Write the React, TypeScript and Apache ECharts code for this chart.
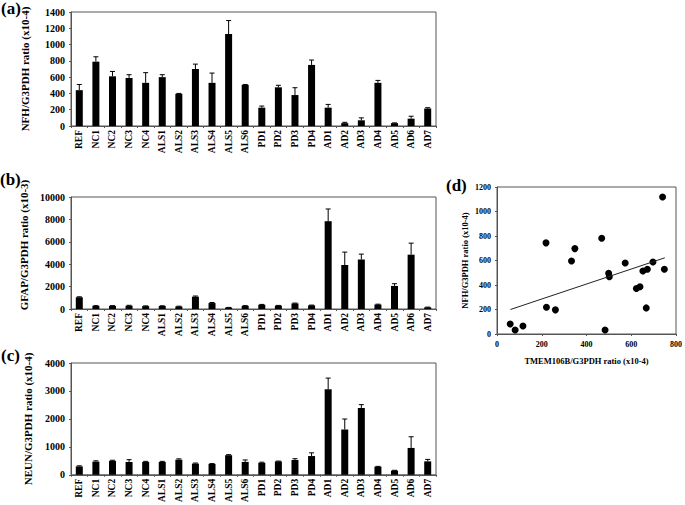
import React, { useEffect, useRef } from "react";
import * as echarts from "echarts";

const categories = ["REF","NC1","NC2","NC3","NC4","ALS1","ALS2","ALS3","ALS4","ALS5","ALS6","PD1","PD2","PD3","PD4","AD1","AD2","AD3","AD4","AD5","AD6","AD7"];

const nfhMean = [440,790,610,590,530,600,395,700,530,1130,505,225,475,380,750,225,35,70,530,35,90,215];
const nfhErr  = [70,60,60,40,125,30,5,60,120,165,5,20,25,90,60,40,10,30,30,3,30,10];

const gfapMean = [1050,280,280,300,260,270,230,1100,530,130,280,380,300,500,330,7840,3930,4420,400,2060,4850,150];
const gfapErr  = [40,20,20,30,20,20,20,60,50,10,20,30,20,30,20,1090,1150,480,30,200,1030,20];

const neunMean = [300,470,500,460,460,460,540,400,390,700,460,430,480,530,670,3060,1620,2390,290,150,960,480];
const neunErr  = [20,30,20,80,20,20,30,20,10,20,70,20,10,45,115,400,375,120,10,10,400,70];

const tmemX = [59,81,116,219,221,261,333,348,468,483,499,502,573,623,639,652,667,672,697,740,748];
const nfhY  = [82,33,66,744,219,197,596,697,782,33,495,467,580,372,385,514,213,528,588,1118,528];
const trendLine = [[60,200],[750,622]];

const FONT = "'Liberation Serif', 'Times New Roman', serif";
const AXIS_COLOR = "#555";
const plain = (v: number) => String(v);

export default function App() {
  const ref = useRef<HTMLDivElement>(null);
  useEffect(() => {
    const chart = echarts.init(ref.current!, null, { renderer: "svg" });

    const barGrids = [
      { top: 12, height: 114 },
      { top: 197, height: 112 },
      { top: 363, height: 114 },
    ];
    const panels = [
      { mean: nfhMean, err: nfhErr, max: 1400, interval: 200, name: "NFH/G3PDH ratio (x10-4)", gap: 41, shift: 0 },
      { mean: gfapMean, err: gfapErr, max: 10000, interval: 2000, name: "GFAP/G3PDH ratio (x10-3)", gap: 38, shift: 16 },
      { mean: neunMean, err: neunErr, max: 4000, interval: 1000, name: "NEUN/G3PDH ratio (x10-4)", gap: 38, shift: 0 },
    ];

    const grid: any[] = barGrids.map((g) => ({
      left: 71, width: 365, top: g.top, height: g.height,
      show: true, borderColor: AXIS_COLOR, borderWidth: 1, backgroundColor: "transparent",
    }));
    grid.push({ left: 497, width: 181, top: 187, height: 147, show: true, borderColor: AXIS_COLOR, borderWidth: 1, backgroundColor: "transparent" });

    const xAxis: any[] = panels.map((_, i) => ({
      type: "category", gridIndex: i, data: categories,
      axisLine: { lineStyle: { color: AXIS_COLOR, width: 1 } },
      axisTick: { show: true, length: 2, lineStyle: { color: AXIS_COLOR } },
      axisLabel: { rotate: 90, interval: 0, margin: 4, color: "#000000", fontFamily: FONT, fontWeight: "bold", fontSize: 9.5 },
    }));
    xAxis.push({
      type: "value", gridIndex: 3, min: 0, max: 800, interval: 200,
      axisLine: { onZero: false, lineStyle: { color: AXIS_COLOR } },
      axisTick: { show: true, length: 2, lineStyle: { color: AXIS_COLOR } },
      splitLine: { show: false },
      axisLabel: { margin: 6, color: "#000000", fontFamily: FONT, fontWeight: "bold", fontSize: 8, formatter: plain },
      name: "TMEM106B/G3PDH ratio (x10-4)", nameLocation: "middle", nameGap: 22,
      nameTextStyle: { color: "#000000", fontFamily: FONT, fontWeight: "bold", fontSize: 8.5 },
    });

    const yAxis: any[] = panels.map((p, i) => ({
      type: "value", gridIndex: i, min: 0, max: p.max, interval: p.interval,
      axisLine: { show: true, lineStyle: { color: AXIS_COLOR } },
      axisTick: { show: true, length: 2, lineStyle: { color: AXIS_COLOR } },
      splitLine: { show: false },
      axisLabel: { margin: 6, color: "#000000", fontFamily: FONT, fontWeight: "bold", fontSize: 10, formatter: plain },
      name: p.name, nameLocation: "middle", nameGap: p.gap, nameRotate: 90,
      nameTextStyle: { color: "#000000", fontFamily: FONT, fontWeight: "bold", fontSize: 11, padding: [0, 0, 0, p.shift] },
    }));
    yAxis.push({
      type: "value", gridIndex: 3, min: 0, max: 1200, interval: 200,
      axisLine: { show: true, onZero: false, lineStyle: { color: AXIS_COLOR } },
      axisTick: { show: true, length: 2, lineStyle: { color: AXIS_COLOR } },
      splitLine: { show: false },
      axisLabel: { margin: 6, color: "#000000", fontFamily: FONT, fontWeight: "bold", fontSize: 8, formatter: plain },
      name: "NFH/G3PDH ratio (x10-4)", nameLocation: "middle", nameGap: 28, nameRotate: 90,
      nameTextStyle: { color: "#000000", fontFamily: FONT, fontWeight: "bold", fontSize: 8.5 },
    });

    const series: any[] = [];
    panels.forEach((p, i) => {
      series.push({
        type: "bar", xAxisIndex: i, yAxisIndex: i, data: p.mean,
        barWidth: 7, itemStyle: { color: "#000" },
      });
      series.push({
        type: "custom", xAxisIndex: i, yAxisIndex: i,
        data: p.mean.map((m, k) => [k, m, p.err[k]]),
        encode: { x: 0, y: 1 },
        z: 5,
        renderItem: (params: any, api: any) => {
          const x = api.value(0);
          const m = api.value(1);
          const e = api.value(2);
          const p0 = api.coord([x, m]);
          const p1 = api.coord([x, m + e]);
          const w = 2.5;
          return {
            type: "group",
            children: [
              { type: "line", shape: { x1: p0[0], y1: p0[1], x2: p1[0], y2: p1[1] }, style: { stroke: "#000", lineWidth: 1 } },
              { type: "line", shape: { x1: p1[0] - w, y1: p1[1], x2: p1[0] + w, y2: p1[1] }, style: { stroke: "#000", lineWidth: 1 } },
            ],
          };
        },
      });
    });
    series.push({
      type: "scatter", xAxisIndex: 3, yAxisIndex: 3,
      data: tmemX.map((x, k) => [x, nfhY[k]]),
      symbolSize: 7, itemStyle: { color: "#000", opacity: 1 },
    });
    series.push({
      type: "line", xAxisIndex: 3, yAxisIndex: 3, data: trendLine,
      showSymbol: false, symbol: "none", lineStyle: { color: "#222", width: 1 },
    });

    const label = (t: string, x: number, y: number) => ({
      type: "text", left: x, top: y,
      style: { text: t, fill: "#000", font: `bold 17px ${FONT}` },
    });

    chart.setOption({
      animation: false,
      backgroundColor: "#fff",
      textStyle: { color: "#000", fontFamily: FONT },
      grid, xAxis, yAxis, series,
      graphic: [
        label("(a)", 1, 0),
        label("(b)", 0, 171),
        label("(c)", 1, 347),
        label("(d)", 446, 177),
      ],
    });
    return () => chart.dispose();
  }, []);
  return <div ref={ref} style={{ position: "fixed", left: 0, top: 0, width: 685, height: 505 }} />;
}
